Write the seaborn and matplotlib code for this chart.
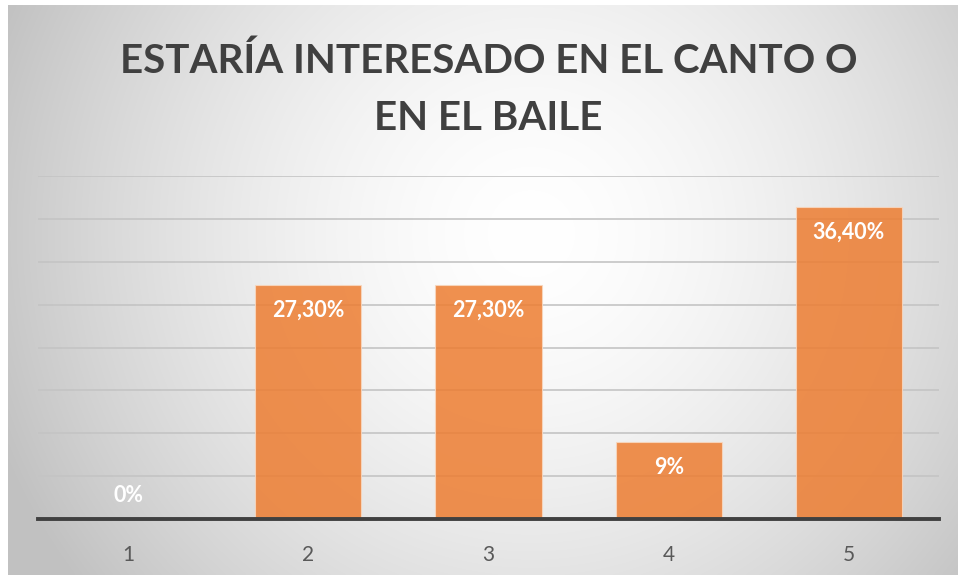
import numpy as np
import pandas as pd
import matplotlib
matplotlib.use("Agg")
import matplotlib.pyplot as plt
import seaborn as sns

categories = ["1", "2", "3", "4", "5"]
values = [0.0, 27.3, 27.3, 9.0, 36.4]
value_labels = ["0%", "27,30%", "27,30%", "9%", "36,40%"]
title = "ESTARÍA INTERESADO EN EL CANTO O\nEN EL BAILE"

df = pd.DataFrame({"cat": categories, "val": values})

sns.set_theme(style="white")
plt.rcParams["font.family"] = ["Lato", "DejaVu Sans"]

W, H = 959, 577
fig = plt.figure(figsize=(W / 100, H / 100), dpi=100)
fig.patch.set_facecolor("white")

# gradient background panel
bg = fig.add_axes([8 / W, 2 / H, (958 - 8) / W, (575 - 5) / H])
bg.set_zorder(0)
ny, nx = 300, 500
yy, xx = np.mgrid[0:ny, 0:nx]
cx, cy = 0.55 * nx, 0.40 * ny
r = np.sqrt(((xx - cx) / (0.60 * nx)) ** 2 + ((yy - cy) / (0.60 * nx)) ** 2)
r = np.clip(r, 0, 1)
val = 1.0 - 0.24 * r ** 1.6
img = np.dstack([val, val, val])
bg.imshow(img, aspect="auto", extent=[0, 1, 0, 1], interpolation="bilinear")
bg.set_axis_off()

ax = fig.add_axes([38 / W, 58 / H, (939 - 38) / W, (519 - 176) / H])
ax.set_zorder(1)
ax.patch.set_alpha(0)

sns.barplot(data=df, x="cat", y="val", color="#ED7D31", width=0.59,
            saturation=1, alpha=0.85, edgecolor="#f8d8c0", linewidth=0.8,
            ax=ax, zorder=3)

ax.set_ylim(0, 40)
ax.set_yticks(np.arange(0, 41, 5))
ax.yaxis.grid(True, color="#c4c4c4", linewidth=1.2, zorder=0)
ax.set_axisbelow(True)
ax.tick_params(axis="y", left=False, labelleft=False)
ax.tick_params(axis="x", bottom=False, labelsize=15, labelcolor="#595959", pad=13)
for s in ["top", "left", "right"]:
    ax.spines[s].set_visible(False)
ax.spines["bottom"].set_color("#404040")
ax.spines["bottom"].set_linewidth(2.8)
ax.spines["bottom"].set_zorder(5)
ax.set_xlabel("")
ax.set_ylabel("")

for p, lab in zip(ax.patches, value_labels):
    x = p.get_x() + p.get_width() / 2
    h = p.get_height()
    off = -18.5 if h > 3 else 17
    ax.annotate(lab, (x, h), xytext=(0, off), textcoords="offset points",
                ha="center", va="center", color="white", fontsize=15.5,
                fontweight="bold", zorder=6)

fig.text(488.5 / W, 1 - 90 / H, title, ha="center", va="center",
         fontsize=29, fontweight="bold", color="#404040", linespacing=1.68)

fig.savefig("out.png", dpi=100)
